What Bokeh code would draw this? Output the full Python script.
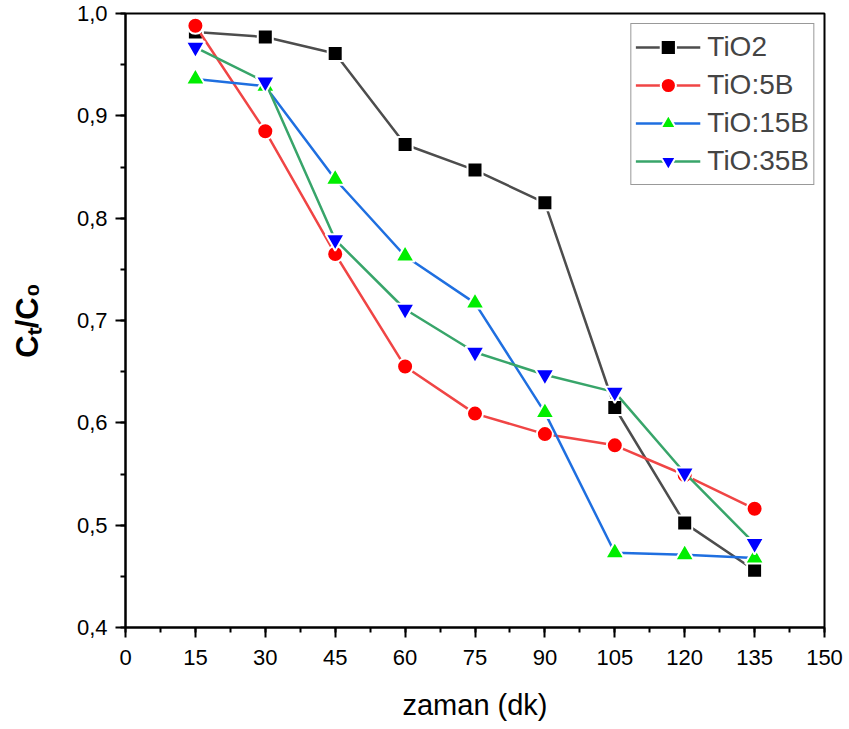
import math
from bokeh.plotting import figure
from bokeh.models import Range1d, SingleIntervalTicker, CustomJSTickFormatter, Legend
from bokeh.embed import file_html
from bokeh.resources import INLINE

# ---- data ----
time_min = [15, 30, 45, 60, 75, 90, 105, 120, 135]
tio2 = [0.982, 0.977, 0.961, 0.872, 0.847, 0.815, 0.615, 0.502, 0.456]
tio_5b = [0.988, 0.885, 0.765, 0.655, 0.609, 0.589, 0.578, 0.549, 0.516]
tio_15b = [0.936, 0.929, 0.838, 0.763, 0.717, 0.610, 0.473, 0.471, 0.468]
tio_35b = [0.967, 0.933, 0.779, 0.711, 0.669, 0.647, 0.630, 0.551, 0.482]
series_names = ["TiO2", "TiO:5B", "TiO:15B", "TiO:35B"]
x_label = "zaman (dk)"
y_label = "C\u209c/C\u2080"

# ---- layout ----
X_MIN, X_MAX = 0, 150
Y_MIN, Y_MAX = 0.4, 1.0
W, H = 849, 729
FL, FR, FT, FB = 125, 824, 13, 627  # frame in canvas px

FONT = "Liberation Sans"

p = figure(width=W, height=H, output_backend="svg", toolbar_location=None,
           x_range=Range1d(X_MIN, X_MAX), y_range=Range1d(Y_MIN, Y_MAX),
           min_border_left=FL, min_border_right=W - FR,
           min_border_top=FT, min_border_bottom=H - FB)
p.grid.visible = False
p.background_fill_color = "white"
p.border_fill_color = "white"
p.outline_line_color = "black"
p.outline_line_width = 2

for ax in (p.xaxis[0], p.yaxis[0]):
    ax.axis_line_width = 2
    ax.major_tick_line_width = 2
    ax.minor_tick_line_width = 2
    ax.major_tick_in = 0
    ax.major_tick_out = 10
    ax.minor_tick_in = 0
    ax.minor_tick_out = 5
    ax.major_label_text_font = FONT
    ax.major_label_text_font_size = "22px"
    ax.major_label_text_color = "black"
    ax.axis_label_text_color = "black"
    ax.axis_label_text_font = FONT

p.xaxis.major_label_standoff = 12
p.yaxis.major_label_standoff = 8
p.xaxis.ticker = SingleIntervalTicker(interval=15, num_minor_ticks=2)
p.yaxis.ticker = SingleIntervalTicker(interval=0.1, num_minor_ticks=2)
p.yaxis.formatter = CustomJSTickFormatter(code="return tick.toFixed(1).replace('.', ',');")
p.xaxis.axis_label = x_label
p.xaxis.axis_label_text_font_style = "normal"
p.xaxis.axis_label_text_font_size = "29px"
p.xaxis.axis_label_standoff = 21

p.yaxis.axis_label = y_label
p.yaxis.axis_label_text_font_style = "bold"
p.yaxis.axis_label_text_font_size = "31px"
p.yaxis.axis_label_standoff = 29

line_colors = ["#4d4d4d", "#f04545", "#1f6fe0", "#38a56a"]
marker_colors = ["#000000", "#ff0000", "#00ee00", "#0000ff"]
markers = ["square", "circle", "triangle", "inverted_triangle"]
sizes = [15, 16, 19, 19]
all_series = [tio2, tio_5b, tio_15b, tio_35b]

items = []
for name, ys, lc, mc, mk, sz in zip(series_names, all_series, line_colors, marker_colors, markers, sizes):
    r1 = p.line(time_min, ys, line_color=lc, line_width=2.5)
    r2 = p.scatter(time_min, ys, marker=mk, size=sz, fill_color=mc, line_color="white", line_width=2)
    items.append((name, [r1, r2]))

legend = Legend(items=items, location="top_right")
legend.label_text_font = FONT
legend.label_text_font_size = "28px"
legend.glyph_width = 65
legend.glyph_height = 38
legend.label_height = 38
legend.spacing = 0
legend.padding = 4
legend.label_standoff = 7
legend.margin = 10
legend.border_line_color = "#333333"
legend.border_line_width = 1.5
legend.background_fill_alpha = 1.0
p.add_layout(legend, "center")

open("out.html", "w").write(file_html(p, INLINE))
